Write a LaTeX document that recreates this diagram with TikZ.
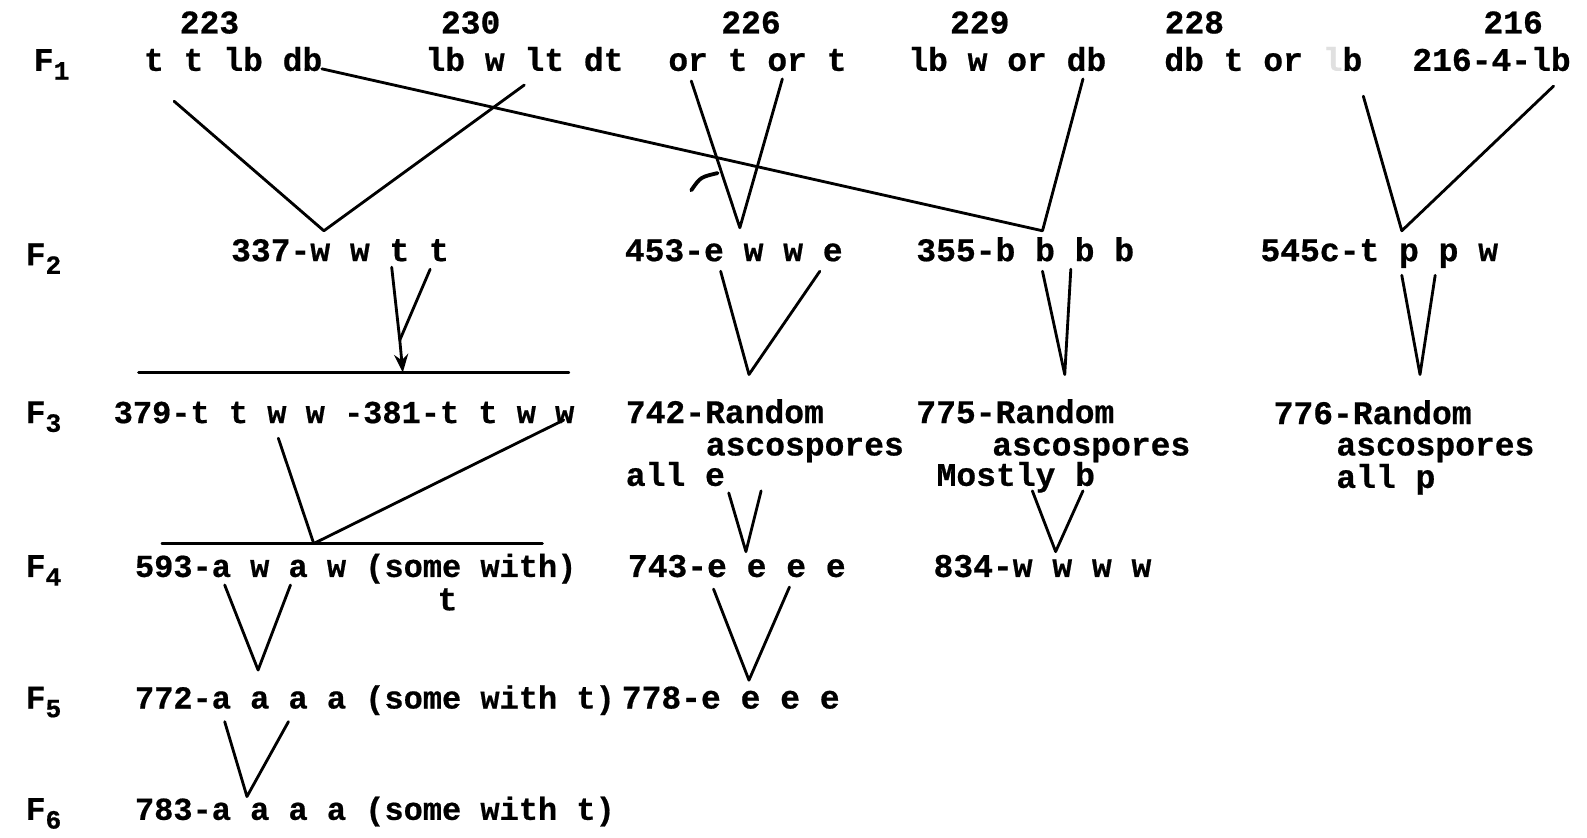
\documentclass[tikz,border=0pt]{standalone}
\usepackage{fontspec}
\setmonofont{Liberation Mono}[BoldFeatures={FakeBold=0.6}]
\usetikzlibrary{arrows.meta}
% generation label: F with a lowered index
\newcommand\genlab[1]{F\raisebox{-0.5ex}{\fontsize{13}{13}\selectfont #1}}
\begin{document}
\begin{tikzpicture}[x=0.5pt,y=-0.5pt,
  tw/.style={font=\ttfamily\bfseries\fontsize{16.3}{18}\selectfont,
             anchor=base west, inner sep=0pt},
  twn/.style={tw, font=\ttfamily\bfseries\fontsize{15.8}{18}\selectfont},
  num/.style={tw, anchor=base},
  ln/.style={line width=1.4pt, line cap=round, line join=round},
]
\useasboundingbox (0,0) rectangle (1568,827);

% generation labels
\node[tw] (g1) at (33,70)  {\genlab{1}};
\node[tw] (g2) at (25,262) {\genlab{2}};
\node[tw] (g3) at (25,418) {\genlab{3}};
\node[tw] (g4) at (25,570) {\genlab{4}};
\node[tw] (g5) at (25,700) {\genlab{5}};
\node[tw] (g6) at (25,810) {\genlab{6}};

% F1 strain numbers and phenotypes
\node[num] (n223) at (207,33)  {223};
\node[num] (n230) at (465,33)  {230};
\node[num] (n226) at (742,33)  {226};
\node[num] (n229) at (968,33)  {229};
\node[num] (n228) at (1180,33) {228};
\node[num] (n216) at (1495,33) {216};

\node[tw] (p223) at (142,70)  {t t lb db};
\node[tw] (p230) at (420,70)  {lb w lt dt};
\node[tw] (p226) at (660,70)  {or t or t};
\node[tw] (p229) at (897,70)  {lb w or db};
\node[tw] (p228) at (1150,70) {db t or~{\color{black!12}l}b};
\node[tw] (p216) at (1395,70) {216-4-lb};

% F2
\node[tw] (s337) at (228,258)  {337-w w t t};
\node[tw] (s453) at (617,258)  {453-e w w e};
\node[tw] (s355) at (905,258)  {355-b b b b};
\node[tw] (s545) at (1245,258) {545c-t p p w};

% F3
\node[twn] (s379) at (112,418) {379-t t w w -381-t t w w};
\node[tw] (s742) at (618,418) {742-Random};
\node[tw] (s742b) at (697,450) {ascospores};
\node[tw] (s742c) at (618,480) {all e};
\node[tw] (s775) at (905,418) {775-Random};
\node[tw] (s775b) at (980,450) {ascospores};
\node[tw] (s775c) at (925,480) {Mostly b};
\node[tw] (s776) at (1258,419) {776-Random};
\node[tw] (s776b) at (1320,450) {ascospores};
\node[tw] (s776c) at (1320,482) {all p};

% F4
\node[twn] (s593) at (133,570) {593-a w a w (some with)};
\node[tw] (s593t) at (432,603) {t};
\node[tw] (s743) at (620,570) {743-e e e e};
\node[tw] (s834) at (922,570) {834-w w w w};

% F5, F6
\node[twn] (s772) at (133,700) {772-a a a a (some with t)};
\node[tw] (s778) at (614,700) {778-e e e e};
\node[twn] (s783) at (133,810) {783-a a a a (some with t)};

% connector end points
\coordinate (a223) at (172,100);
\coordinate (a230) at (518,84);
\coordinate (v337) at (320,228);
\coordinate (a223db) at (318,68);
\coordinate (a229) at (1070,78);
\coordinate (v355) at (1030,228);
\coordinate (a226l) at (683,80);
\coordinate (a226r) at (773,78);
\coordinate (v453) at (731,225);
\coordinate (hk1) at (683,188);
\coordinate (hk2) at (709,171);
\coordinate (a228) at (1347,95);
\coordinate (a216) at (1535,85);
\coordinate (v545) at (1385,228);

\coordinate (b337l) at (387,264);
\coordinate (b337r) at (425,266);
\coordinate (v379) at (395,336);
\coordinate (h3l) at (137,368);
\coordinate (h3m) at (398,368);
\coordinate (h3r) at (562,368);
\coordinate (b453l) at (712,268);
\coordinate (b453r) at (810,268);
\coordinate (v742) at (740,370);
\coordinate (b355l) at (1030,268);
\coordinate (b355r) at (1058,266);
\coordinate (v775) at (1052,370);
\coordinate (b545l) at (1385,272);
\coordinate (b545r) at (1418,272);
\coordinate (v776) at (1403,370);

\coordinate (b379l) at (275,433);
\coordinate (b379r) at (557,415);
\coordinate (v593) at (310,537);
\coordinate (h4l) at (160,537);
\coordinate (h4r) at (536,537);
\coordinate (b742l) at (720,487);
\coordinate (b742r) at (752,485);
\coordinate (v743) at (737,545);
\coordinate (b775l) at (1020,485);
\coordinate (b775r) at (1070,485);
\coordinate (v834) at (1043,545);

\coordinate (b593l) at (222,578);
\coordinate (b593r) at (287,578);
\coordinate (v772) at (255,662);
\coordinate (b743l) at (705,582);
\coordinate (b743r) at (780,580);
\coordinate (v778) at (740,672);
\coordinate (b772l) at (222,713);
\coordinate (b772r) at (285,713);
\coordinate (v783) at (244,787);

% F1 -> F2
\draw[ln] (a223) -- (v337) -- (a230);
\draw[ln] (a223db) -- (v355) -- (a229);
\draw[ln] (a226l) -- (v453) -- (a226r);
\draw[ln, line width=1.9pt] (hk1) .. controls (692,175) .. (hk2);
\draw[ln] (a228) -- (v545) -- (a216);

% F2 -> F3
\draw[ln] (b337r) -- (v379);
\draw[ln, -{Stealth[length=9pt,width=7pt]}] (b337l) -- (v379) -- (h3m);
\draw[ln] (h3l) -- (h3r);
\draw[ln] (b453l) -- (v742) -- (b453r);
\draw[ln] (b355l) -- (v775) -- (b355r);
\draw[ln] (b545l) -- (v776) -- (b545r);

% F3 -> F4
\draw[ln] (b379l) -- (v593) -- (b379r);
\draw[ln] (h4l) -- (h4r);
\draw[ln] (b742l) -- (v743) -- (b742r);
\draw[ln] (b775l) -- (v834) -- (b775r);

% F4 -> F5 -> F6
\draw[ln] (b593l) -- (v772) -- (b593r);
\draw[ln] (b743l) -- (v778) -- (b743r);
\draw[ln] (b772l) -- (v783) -- (b772r);
\end{tikzpicture}
\end{document}
